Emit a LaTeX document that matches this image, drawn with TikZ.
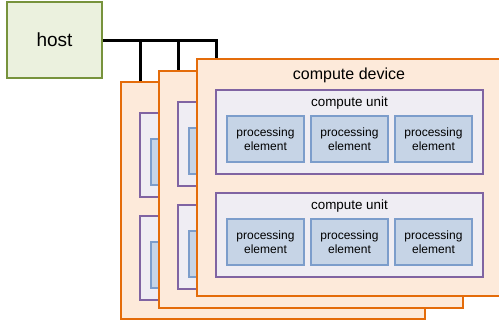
\documentclass[tikz,border=0pt]{standalone}
\usepackage{fontspec}
\setmainfont{Liberation Sans}
\usepackage{xcolor}
\usetikzlibrary{positioning}
\pgfdeclarelayer{background}
\pgfsetlayers{background,main}

\definecolor{hostfill}{HTML}{EBF1DE}
\definecolor{hostline}{HTML}{77933C}
\definecolor{devfill}{HTML}{FDEADA}
\definecolor{devline}{HTML}{E46C0A}
\definecolor{cufill}{HTML}{EFEDF3}
\definecolor{culine}{HTML}{8064A2}
\definecolor{pefill}{HTML}{C6D4E6}
\definecolor{peline}{HTML}{7C9DCB}

\tikzset{
  box/.style={rectangle, inner sep=0pt, outer sep=0pt, anchor=north west},
  hostbox/.style={box, fill=hostfill, draw=hostline, line width=1.8pt,
    minimum width=95pt, minimum height=76pt, font=\fontsize{19}{22}\selectfont},
  devbox/.style={box, fill=devfill, draw=devline, line width=1.8pt,
    minimum width=304pt, minimum height=237pt},
  cubox/.style={box, fill=cufill, draw=culine, line width=1.8pt,
    minimum width=267pt, minimum height=84pt},
  pebox/.style={box, fill=pefill, draw=peline, line width=1.3pt,
    minimum width=77pt, minimum height=46pt},
  devtext/.style={font=\fontsize{16}{18}\selectfont},
  cutext/.style={font=\fontsize{13.4}{15}\selectfont},
  petext/.style={align=center, font=\fontsize{12}{14}\selectfont},
  bus/.style={line width=3pt, black},
}

\begin{document}
\begin{tikzpicture}[x=1pt, y=-1pt]
    \useasboundingbox (0,0) rectangle (499,324);
    \clip (0,0) rectangle (499,324);

    \node[hostbox] (host) at (7,2) {host};

    % three stacked devices, back to front
    \foreach \i/\x/\y in {1/121/82, 2/159/71, 3/197/59} {
      \node[devbox] (dev\i) at (\x,\y) {};
      \foreach \u/\d in {a/31, b/134} {
        \node[cubox, below right=\d pt and 19pt of dev\i.north west] (cu\i\u) {};
        \node[pebox, below right=26pt and 11pt of cu\i\u.north west] (pe\i\u1) {};
        \node[pebox, right=7pt of pe\i\u1] (pe\i\u2) {};
        \node[pebox, right=7pt of pe\i\u2] (pe\i\u3) {};
      }
    }

    \node[devtext] at ([yshift=-16pt]dev3.north) {compute device};
    \foreach \u in {a,b} {
      \node[cutext] at ([yshift=-13pt]cu3\u.north) {compute unit};
      \foreach \p in {1,2,3}
        \node[petext] at (pe3\u\p) {processing\\element};
    }

    \begin{pgfonlayer}{background}
      \draw[bus] (host.east) -| (cu3a.west |- dev3.north);
      \foreach \i in {1,2}
        \draw[bus] (host.east -| cu\i a.west) -- (cu\i a.west |- dev\i.north);
    \end{pgfonlayer}
\end{tikzpicture}
\end{document}
